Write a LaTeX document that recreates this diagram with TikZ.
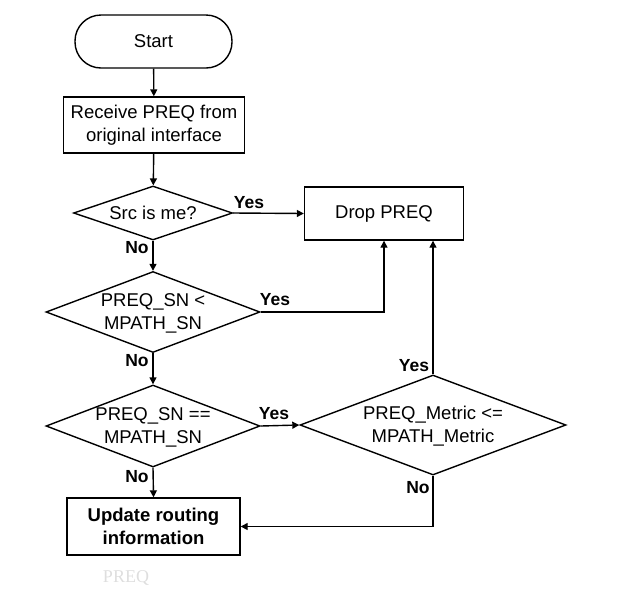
\documentclass[tikz,border=0pt]{standalone}
\usepackage{fontspec}
\setmainfont{Liberation Sans}
\newfontfamily\capfont{Liberation Serif}
\usetikzlibrary{shapes.geometric,arrows.meta}
\begin{document}
\begin{tikzpicture}[x=1pt,y=-1pt,
 every node/.style={font=\fontsize{18.5}{23}\selectfont, align=center},
 base/.style={draw, line width=1.4pt, inner sep=0pt},
 box/.style={base, rectangle},
 dec/.style={base, diamond},
 term/.style={base, rectangle, rounded corners=26pt},
 flow/.style={line width=1.4pt, -{Triangle[length=7pt,width=7pt]}},
 txt/.style={inner sep=0pt},
 lbl/.style={font=\bfseries\fontsize{17.5}{20}\selectfont, inner sep=0pt}]
\useasboundingbox (0,0) rectangle (623,603);
% nodes
\node[term, minimum width=157pt, minimum height=53pt] (start) at (153.5,41.5) {Start};
\node[box, minimum width=181pt, minimum height=56pt] (recv) at (154,125) {Receive PREQ from\\original interface};
\node[dec, minimum width=159pt, minimum height=54pt] (d1) at (153,213) {};
\node[txt] (d1t) at (d1) {Src is me?};
\node[box, minimum width=159pt, minimum height=53pt] (drop) at (384,213.5) {Drop PREQ};
\node[dec, minimum width=214pt, minimum height=81pt] (d2) at (153,312) {};
\node[txt] (d2t) at (153,313) {PREQ\_SN <\\MPATH\_SN};
\node[dec, minimum width=214pt, minimum height=82pt] (d3) at (153,426) {};
\node[txt] (d3t) at (153,427) {PREQ\_SN ==\\MPATH\_SN};
\node[dec, minimum width=266pt, minimum height=100pt] (d4) at (433,425) {};
\node[txt] (d4t) at (433,426) {PREQ\_Metric <=\\MPATH\_Metric};
\node[box, minimum width=173pt, minimum height=57pt, font=\bfseries\fontsize{18.5}{23}\selectfont] (upd) at (153.5,526.5) {Update routing\\information};
\node[font=\capfont\fontsize{18}{20}\selectfont, text=black!13] (cap) at (126,578) {PREQ};
% connectors
\draw[flow] (start) -- (recv);
\draw[flow] (recv) -- (d1);
\draw[flow] (d1.east) -- (drop.west);
\draw[flow] (d1.south) -- (d2.north);
\draw[flow] (d2.east) -| (drop.south);
\draw[flow] (d2.south) -- (d3.north);
\draw[flow] (d3.east) -- (d4.west);
\draw[flow] (d3.south) -- (upd.north);
\draw[flow] (d4.north) -- (d4.north |- drop.south);
\draw[flow] (d4.south) |- (upd.east);
% labels
\node[lbl] (y1) at (249,203) {Yes};
\node[lbl] (n1) at (137,248) {No};
\node[lbl] (y2) at (275,300) {Yes};
\node[lbl] (n2) at (137,361) {No};
\node[lbl] (y3) at (274,414) {Yes};
\node[lbl] (n3) at (137,477) {No};
\node[lbl] (y4) at (414,366) {Yes};
\node[lbl] (n4) at (418,488) {No};
\end{tikzpicture}
\end{document}
